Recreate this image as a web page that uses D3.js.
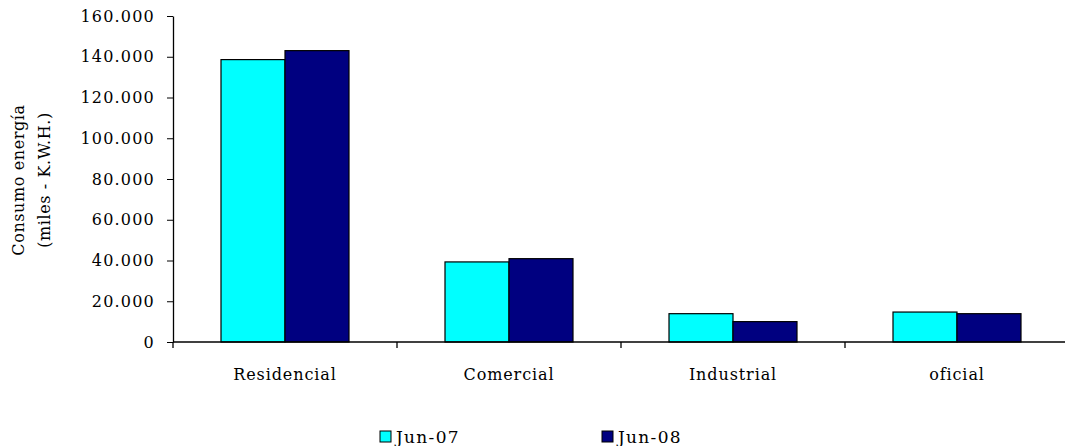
<!DOCTYPE html>
<html>
<head>
<meta charset="utf-8">
<script src="https://d3js.org/d3.v7.min.js"></script>
<style>
  body { margin: 0; background: #fff; }
  text { font-family: "DejaVu Serif", serif; fill: #000; }
</style>
</head>
<body>
<div id="chart"></div>
<script>
// data
var categories = ["Residencial", "Comercial", "Industrial", "oficial"];
var seriesNames = ["Jun-07", "Jun-08"];
var jun07 = [138600, 39300, 13900, 14700];
var jun08 = [143000, 40900, 10000, 13900];
var yTicks = [0, 20000, 40000, 60000, 80000, 100000, 120000, 140000, 160000];
var colors = ["#00ffff", "#000080"];

var width = 1065, height = 446;
var margin = {top: 16, right: -4, bottom: 104, left: 173};

var svg = d3.select("#chart").append("svg")
    .attr("width", width)
    .attr("height", height);

var x0 = d3.scaleBand()
    .domain(categories)
    .range([margin.left, width - margin.right])
    .padding(0);

var x1 = d3.scaleBand()
    .domain(seriesNames)
    .range([0, x0.bandwidth()])
    .paddingInner(0)
    .paddingOuter(0.75);

var y = d3.scaleLinear()
    .domain([0, 160000])
    .range([height - margin.bottom, margin.top]);

var locale = d3.formatLocale({decimal: ",", thousands: ".", grouping: [3], currency: ["$", ""]});
var fmt = locale.format(",.0f");

// y axis
var yAxis = svg.append("g")
    .attr("transform", "translate(" + margin.left + ",0)")
    .call(d3.axisLeft(y).tickValues(yTicks).tickFormat(fmt).tickSize(6).tickSizeOuter(0));
yAxis.select(".domain").attr("stroke", "#000").attr("stroke-width", 1.3);
yAxis.selectAll(".tick line").attr("stroke", "#000");
yAxis.selectAll(".tick text")
    .attr("x", -18)
    .style("font-size", "16px")
    .style("font-family", "'DejaVu Serif', serif")
    .style("letter-spacing", "1.2px");

// bars
var rows = categories.map(function(c, i) {
    return {cat: c, values: [{name: seriesNames[0], v: jun07[i]}, {name: seriesNames[1], v: jun08[i]}]};
});

var groups = svg.selectAll(".grp")
    .data(rows)
  .enter().append("g")
    .attr("class", "grp")
    .attr("transform", function(d) { return "translate(" + x0(d.cat) + ",0)"; });

groups.selectAll("rect")
    .data(function(d) { return d.values; })
  .enter().append("rect")
    .attr("x", function(d) { return x1(d.name); })
    .attr("y", function(d) { return y(d.v); })
    .attr("width", x1.bandwidth())
    .attr("height", function(d) { return y(0) - y(d.v); })
    .attr("fill", function(d, i) { return colors[i]; })
    .attr("stroke", "#000")
    .attr("stroke-width", 1.2);

// x axis line with ticks at category borders
var bounds = categories.map(function(c) { return x0(c); }).concat([x0(categories[3]) + x0.bandwidth()]);
svg.append("line")
    .attr("x1", margin.left).attr("x2", width)
    .attr("y1", y(0)).attr("y2", y(0))
    .attr("stroke", "#000").attr("stroke-width", 1.3);
svg.selectAll(".xtick")
    .data(bounds)
  .enter().append("line")
    .attr("class", "xtick")
    .attr("x1", function(d) { return d; }).attr("x2", function(d) { return d; })
    .attr("y1", y(0)).attr("y2", y(0) + 6)
    .attr("stroke", "#000").attr("stroke-width", 1.3);

svg.selectAll(".xlabel")
    .data(categories)
  .enter().append("text")
    .attr("class", "xlabel")
    .attr("x", function(d) { return x0(d) + x0.bandwidth() / 2; })
    .attr("y", y(0) + 38)
    .attr("text-anchor", "middle")
    .style("font-size", "16px")
    .style("letter-spacing", "0.9px")
    .text(function(d) { return d; });

// y axis title
var yt = svg.append("text")
    .attr("transform", "translate(24,180) rotate(-90)")
    .attr("text-anchor", "middle")
    .style("font-size", "16px")
    .style("letter-spacing", "0.6px");
yt.append("tspan").attr("x", 0).attr("dy", 0).text("Consumo energía");
yt.append("tspan").attr("x", 0).attr("dy", "1.6em").text("(miles - K.W.H.)");

// legend
var legendX = [380, 602];
var legend = svg.selectAll(".leg")
    .data(seriesNames)
  .enter().append("g")
    .attr("class", "leg")
    .attr("transform", function(d, i) { return "translate(" + legendX[i] + ",431)"; });
legend.append("rect")
    .attr("width", 11).attr("height", 11)
    .attr("fill", function(d, i) { return colors[i]; })
    .attr("stroke", "#000").attr("stroke-width", 1);
legend.append("text")
    .attr("x", 16).attr("y", 12)
    .style("font-size", "17px")
    .style("letter-spacing", "1.3px")
    .text(function(d) { return d; });
</script>
</body>
</html>
